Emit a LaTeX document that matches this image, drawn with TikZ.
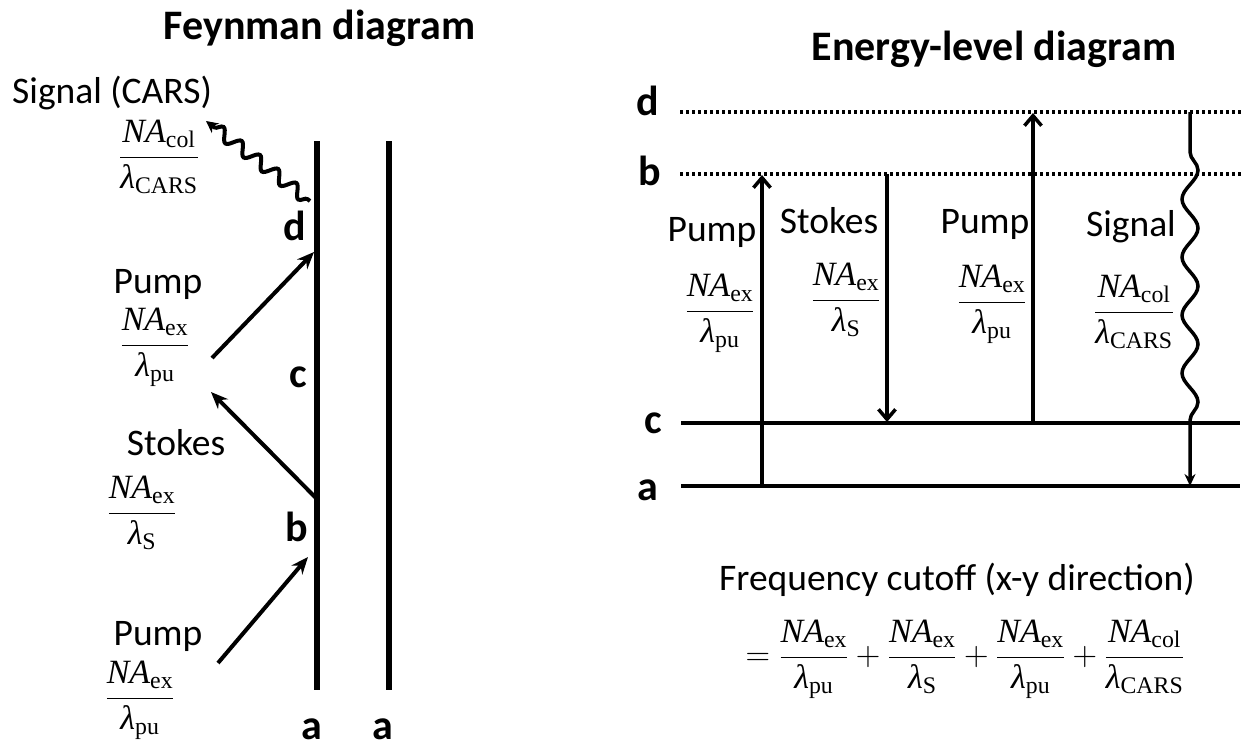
\RequirePackage{fix-cm}
\documentclass[tikz,border=0pt]{standalone}
\usepackage{amsmath}
\usepackage{fontspec}
\setmainfont{Carlito}
\newfontfamily\tnr{Liberation Serif}
\usetikzlibrary{arrows.meta,decorations.pathmorphing}
\newcommand{\NAf}[2]{$\dfrac{\text{\tnr\itshape NA}_{\text{\tnr #1}}}{\text{\tnr\itshape λ}_{\text{\tnr #2}}}$}
\tikzset{
  lbl/.style={font=\fontsize{37.5}{45}\selectfont, anchor=base, inner sep=0pt},
  ttl/.style={font=\fontsize{42}{50}\selectfont\bfseries, anchor=base, inner sep=0pt},
  lvl/.style={font=\fontsize{42}{50}\selectfont\bfseries, anchor=base, inner sep=0pt},
  frc/.style={font=\fontsize{34}{40}\selectfont, anchor=base, inner sep=0pt},
  world/.style={line width=5.5pt},
  level/.style={line width=4.5pt},
  virt/.style={line width=3.5pt, dash pattern=on 3pt off 3pt},
  parr/.style={line width=4pt, -{Stealth[length=17pt,width=14pt]}},
  varr/.style={line width=3.5pt, -{Straight Barb[length=10pt,width=17pt]}},
}
\begin{document}
\begin{tikzpicture}[x=1pt,y=-1pt]
\useasboundingbox (0,0) rectangle (1242,747);
\fill[white] (0,0) rectangle (1242,747);
% ---------------- Feynman diagram ----------------
\node[ttl] (t1) at (319.5,39) {Feynman diagram};
\coordinate (L1t) at (317,141); \coordinate (L1b) at (317,690);
\coordinate (L2t) at (389,141); \coordinate (L2b) at (389,690);
\draw[world] (L1t) -- (L1b);
\draw[world] (L2t) -- (L2b);
\node[lvl] (fd) at (295,240) {d};
\node[lvl] (fc) at (298,387) {c};
\node[lvl] (fb) at (297,541) {b};
\node[lvl] (fa1) at (312,739) {a};
\node[lvl] (fa2) at (383,739) {a};
\node[lbl, anchor=base west] (sig) at (12,103) {Signal (CARS)};
\node[frc] (fcol) at (159,165.5) {\NAf{col}{CARS}};
\node[lbl] (pu1) at (158,293) {Pump};
\node[frc] (fpu1) at (155,353.5) {\NAf{ex}{pu}};
\node[lbl] (st1) at (176,455) {Stokes};
\node[frc] (fst1) at (142,521.5) {\NAf{ex}{S}};
\node[lbl] (pu0) at (158,645) {Pump};
\node[frc] (fpu0) at (140,706.5) {\NAf{ex}{pu}};
\coordinate (ws) at (310,201); \coordinate (we) at (206,121);
\draw[line width=4pt, -{Stealth[length=12pt,width=12pt]}, decorate,
  decoration={snake, segment length=23pt, amplitude=6pt, pre length=3pt, post length=9pt}] (ws) -- (we);
\coordinate (a1s) at (212,358); \coordinate (a1e) at (314,252);
\draw[parr] (a1s) -- (a1e);
\coordinate (a2s) at (316,498); \coordinate (a2e) at (211,392);
\draw[parr] (a2s) -- (a2e);
\coordinate (a3s) at (218,663); \coordinate (a3e) at (308,557);
\draw[parr] (a3s) -- (a3e);
% ---------------- Energy-level diagram ----------------
\node[ttl] (t2) at (994,60) {Energy-level diagram};
\node[lvl] (ed) at (648,115) {d};
\node[lvl] (eb) at (650,185) {b};
\node[lvl] (ec) at (653,433) {c};
\node[lvl] (ea) at (648,500) {a};
\coordinate (d0) at (680,112); \coordinate (d1) at (1242,112);
\coordinate (b0) at (680,174); \coordinate (b1) at (1242,174);
\coordinate (c0) at (681,423); \coordinate (c1) at (1240,423);
\coordinate (e0) at (681,486); \coordinate (e1) at (1240,486);
\draw[virt] (d0) -- (d1);
\draw[virt] (b0) -- (b1);
\draw[level] (c0) -- (c1);
\draw[level] (e0) -- (e1);
\coordinate (p1s) at (762,486); \coordinate (p1e) at (762,175);
\draw[varr] (p1s) -- (p1e);
\coordinate (s1s) at (887,174); \coordinate (s1e) at (887,422);
\draw[varr] (s1s) -- (s1e);
\coordinate (p2s) at (1033,423); \coordinate (p2e) at (1033,113);
\draw[varr] (p2s) -- (p2e);
\coordinate (gs) at (1190,112); \coordinate (ge) at (1190,486);
\draw[line width=3.5pt, -{Stealth[length=12pt,width=11pt]}, decorate,
  decoration={snake, segment length=58pt, amplitude=8pt, pre length=40pt, post length=62pt}] (gs) -- (ge);
\node[lbl] (epu1) at (712,241) {Pump};
\node[lbl] (est) at (829,233) {Stokes};
\node[lbl] (epu2) at (985,233) {Pump};
\node[lbl] (esig) at (1131,236) {Signal};
\node[frc] (efpu1) at (720,319.5) {\NAf{ex}{pu}};
\node[frc] (efst) at (846,308.5) {\NAf{ex}{S}};
\node[frc] (efpu2) at (992,310.5) {\NAf{ex}{pu}};
\node[frc] (efsig) at (1134,320.5) {\NAf{col}{CARS}};
% ---------------- cutoff ----------------
\node[lbl] (fq) at (957,590) {Frequency cutoff (x-y direction)};
\node[frc] (eq) at (965,665.5) {$= \dfrac{\text{\tnr\itshape NA}_{\text{\tnr ex}}}{\text{\tnr\itshape λ}_{\text{\tnr pu}}}
 + \dfrac{\text{\tnr\itshape NA}_{\text{\tnr ex}}}{\text{\tnr\itshape λ}_{\text{\tnr S}}}
 + \dfrac{\text{\tnr\itshape NA}_{\text{\tnr ex}}}{\text{\tnr\itshape λ}_{\text{\tnr pu}}}
 + \dfrac{\text{\tnr\itshape NA}_{\text{\tnr col}}}{\text{\tnr\itshape λ}_{\text{\tnr CARS}}}$};
\end{tikzpicture}
\end{document}
